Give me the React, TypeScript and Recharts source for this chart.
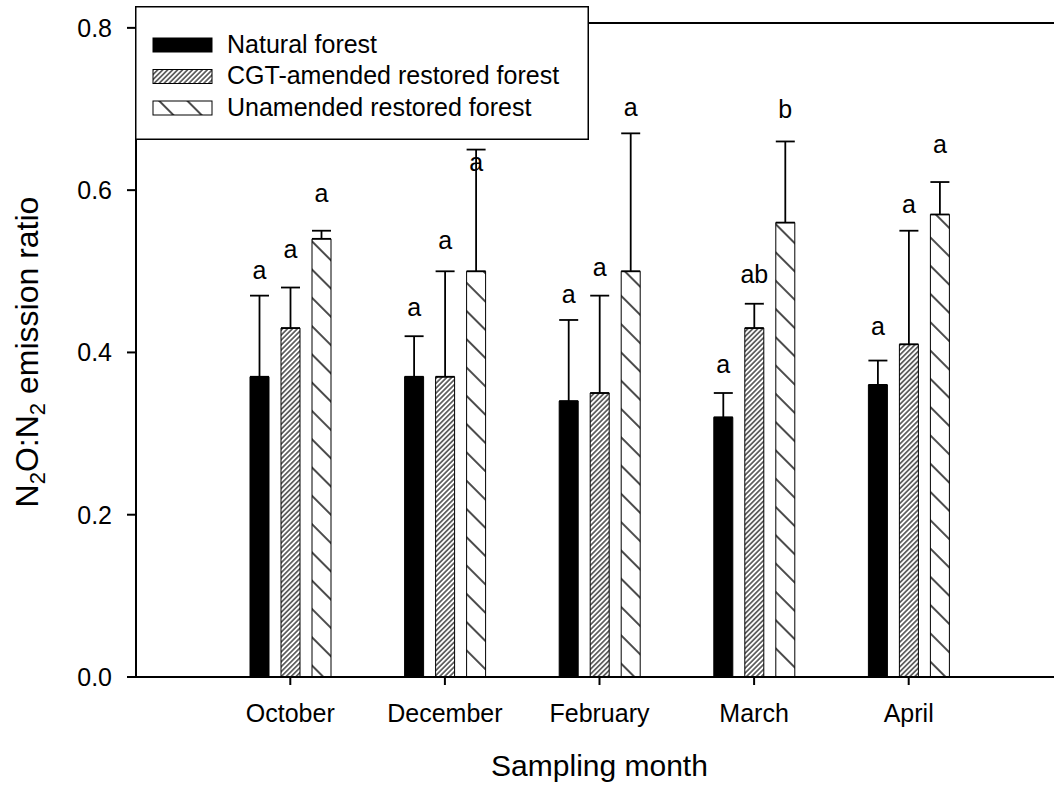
import React from "react";
import { Bar, BarChart, ErrorBar, LabelList, ReferenceLine, XAxis, YAxis } from "recharts";

const FONT = '"Liberation Sans", Arial, sans-serif';

const months = ["October", "December", "February", "March", "April"];

const natural = [0.37, 0.37, 0.34, 0.32, 0.36];
const naturalErr = [0.1, 0.05, 0.1, 0.03, 0.03];
const cgt = [0.43, 0.37, 0.35, 0.43, 0.41];
const cgtErr = [0.05, 0.13, 0.12, 0.03, 0.14];
const unamended = [0.54, 0.5, 0.5, 0.56, 0.57];
const unamendedErr = [0.01, 0.15, 0.17, 0.1, 0.04];

// significance letters and the height (in ratio units) of their baseline
const naturalLetters = ["a", "a", "a", "a", "a"];
const cgtLetters = ["a", "a", "a", "ab", "a"];
const unamendedLetters = ["a", "a", "a", "b", "a"];
const naturalLetterAt = [0.491, 0.445, 0.461, 0.375, 0.422];
const cgtLetterAt = [0.516, 0.528, 0.494, 0.486, 0.572];
const unamendedLetterAt = [0.585, 0.623, 0.691, 0.689, 0.646];

const yTicks = [0, 0.2, 0.4, 0.6, 0.8];
const yMax = 0.806;

const data = months.map((month, i) => ({
  month,
  natural: natural[i],
  naturalErr: [0, naturalErr[i]],
  naturalLetter: naturalLetters[i],
  cgt: cgt[i],
  cgtErr: [0, cgtErr[i]],
  cgtLetter: cgtLetters[i],
  unamended: unamended[i],
  unamendedErr: [0, unamendedErr[i]],
  unamendedLetter: unamendedLetters[i],
}));

const makeLetter = (values: number[], at: number[]) => (props: any) => {
  const vb = props.viewBox && typeof props.viewBox.height === "number" ? props.viewBox : props;
  const { x, y, width, height } = vb;
  const i = props.index;
  const perUnit = height / values[i];
  const by = y - (at[i] - values[i]) * perUnit;
  return (
    <text x={x + width / 2} y={by} textAnchor="middle" fontSize={25} fontFamily={FONT} fill="#000">
      {props.value}
    </text>
  );
};

const YTitle = (props: any) => {
  const vb = props.viewBox || { x: 0, y: 23, width: 136, height: 654 };
  const cx = vb.x + 38;
  const cy = vb.y + vb.height / 2 + 2;
  return (
    <text
      transform={`translate(${cx},${cy}) rotate(-90)`}
      textAnchor="middle"
      fontSize={32}
      fontFamily={FONT}
      fill="#000"
    >
      N<tspan fontSize={22} dy={7}>2</tspan>
      <tspan dy={-7}>O:N</tspan>
      <tspan fontSize={22} dy={7}>2</tspan>
      <tspan dy={-7}>{" emission ratio"}</tspan>
    </text>
  );
};

const XTitle = (props: any) => {
  const vb = props.viewBox || { x: 136, y: 677, width: 927, height: 110 };
  return (
    <text x={vb.x + vb.width / 2} y={776} textAnchor="middle" fontSize={30} fontFamily={FONT} fill="#000">
      Sampling month
    </text>
  );
};

const legendRows = [
  { label: "Natural forest", fill: "#000" },
  { label: "CGT-amended restored forest", fill: "url(#legFwd)" },
  { label: "Unamended restored forest", fill: "url(#legBack)" },
];
const legendCenters = [39, 70.5, 102];

const HatchDefs = ({ fwd, back }: { fwd: string; back: string }) => (
  <defs>
    <pattern id={fwd} width="3.5" height="10" patternUnits="userSpaceOnUse" patternTransform="rotate(45)">
      <rect width="3.5" height="10" fill="#fff" />
      <line x1="1.75" y1="0" x2="1.75" y2="10" stroke="#000" strokeWidth="1.1" />
    </pattern>
    <pattern id={back} width="20" height="20" patternUnits="userSpaceOnUse" patternTransform="rotate(-45)">
      <rect width="20" height="20" fill="#fff" />
      <line x1="10" y1="0" x2="10" y2="20" stroke="#000" strokeWidth="1.4" />
    </pattern>
  </defs>
);

const LegendBox = () => (
  <svg width={455} height={135} style={{ position: "absolute", left: 135, top: 6 }}>
    <HatchDefs fwd="legFwd" back="legBack" />
    <rect x={0.75} y={0.75} width={452.5} height={132.5} fill="#fff" stroke="#000" strokeWidth={1.5} />
    {legendRows.map((r, i) => (
      <g key={r.label}>
        <rect x={18} y={legendCenters[i] - 7} width={59} height={14} fill={r.fill} stroke="#000" strokeWidth={1} />
        <text x={92} y={legendCenters[i] + 7.5} fontSize={25} fontFamily={FONT} fill="#000">
          {r.label}
        </text>
      </g>
    ))}
  </svg>
);

const tickStyle = { fill: "#000", fontSize: 25, fontFamily: FONT };

export default function App() {
  return (
    <div
      style={{
        position: "absolute",
        left: 0,
        top: 0,
        width: 1054,
        height: 787,
        overflow: "hidden",
        background: "#fff",
      }}
    >
      <BarChart
        width={1070}
        height={787}
        data={data}
        margin={{ top: 23, right: 7, bottom: 0, left: 0 }}
        barGap={12}
        barSize={19}
      >
        <HatchDefs fwd="hatchFwd" back="hatchBack" />
        <XAxis
          dataKey="month"
          height={110}
          padding={{ left: 77, right: 77 }}
          tick={tickStyle}
          tickSize={8}
          tickMargin={19}
          tickLine={{ stroke: "#000", strokeWidth: 2 }}
          axisLine={{ stroke: "#000", strokeWidth: 2 }}
          label={<XTitle />}
        />
        <YAxis
          width={136}
          domain={[0, yMax]}
          ticks={yTicks}
          tickFormatter={(v: number) => v.toFixed(1)}
          tick={tickStyle}
          tickSize={9}
          tickMargin={15}
          tickLine={{ stroke: "#000", strokeWidth: 2 }}
          axisLine={{ stroke: "#000", strokeWidth: 2 }}
          label={<YTitle />}
        />
        <ReferenceLine y={yMax} stroke="#000" strokeWidth={2} ifOverflow="visible" />
        <Bar dataKey="natural" fill="#000" stroke="#000" strokeWidth={1} isAnimationActive={false}>
          <ErrorBar dataKey="naturalErr" direction="y" width={9.5} stroke="#000" strokeWidth={1.8} />
          <LabelList dataKey="naturalLetter" content={makeLetter(natural, naturalLetterAt)} />
        </Bar>
        <Bar dataKey="cgt" fill="url(#hatchFwd)" stroke="#000" strokeWidth={1} isAnimationActive={false}>
          <ErrorBar dataKey="cgtErr" direction="y" width={9.5} stroke="#000" strokeWidth={1.8} />
          <LabelList dataKey="cgtLetter" content={makeLetter(cgt, cgtLetterAt)} />
        </Bar>
        <Bar dataKey="unamended" fill="url(#hatchBack)" stroke="#000" strokeWidth={1} isAnimationActive={false}>
          <ErrorBar dataKey="unamendedErr" direction="y" width={9.5} stroke="#000" strokeWidth={1.8} />
          <LabelList dataKey="unamendedLetter" content={makeLetter(unamended, unamendedLetterAt)} />
        </Bar>
      </BarChart>
      <LegendBox />
    </div>
  );
}
